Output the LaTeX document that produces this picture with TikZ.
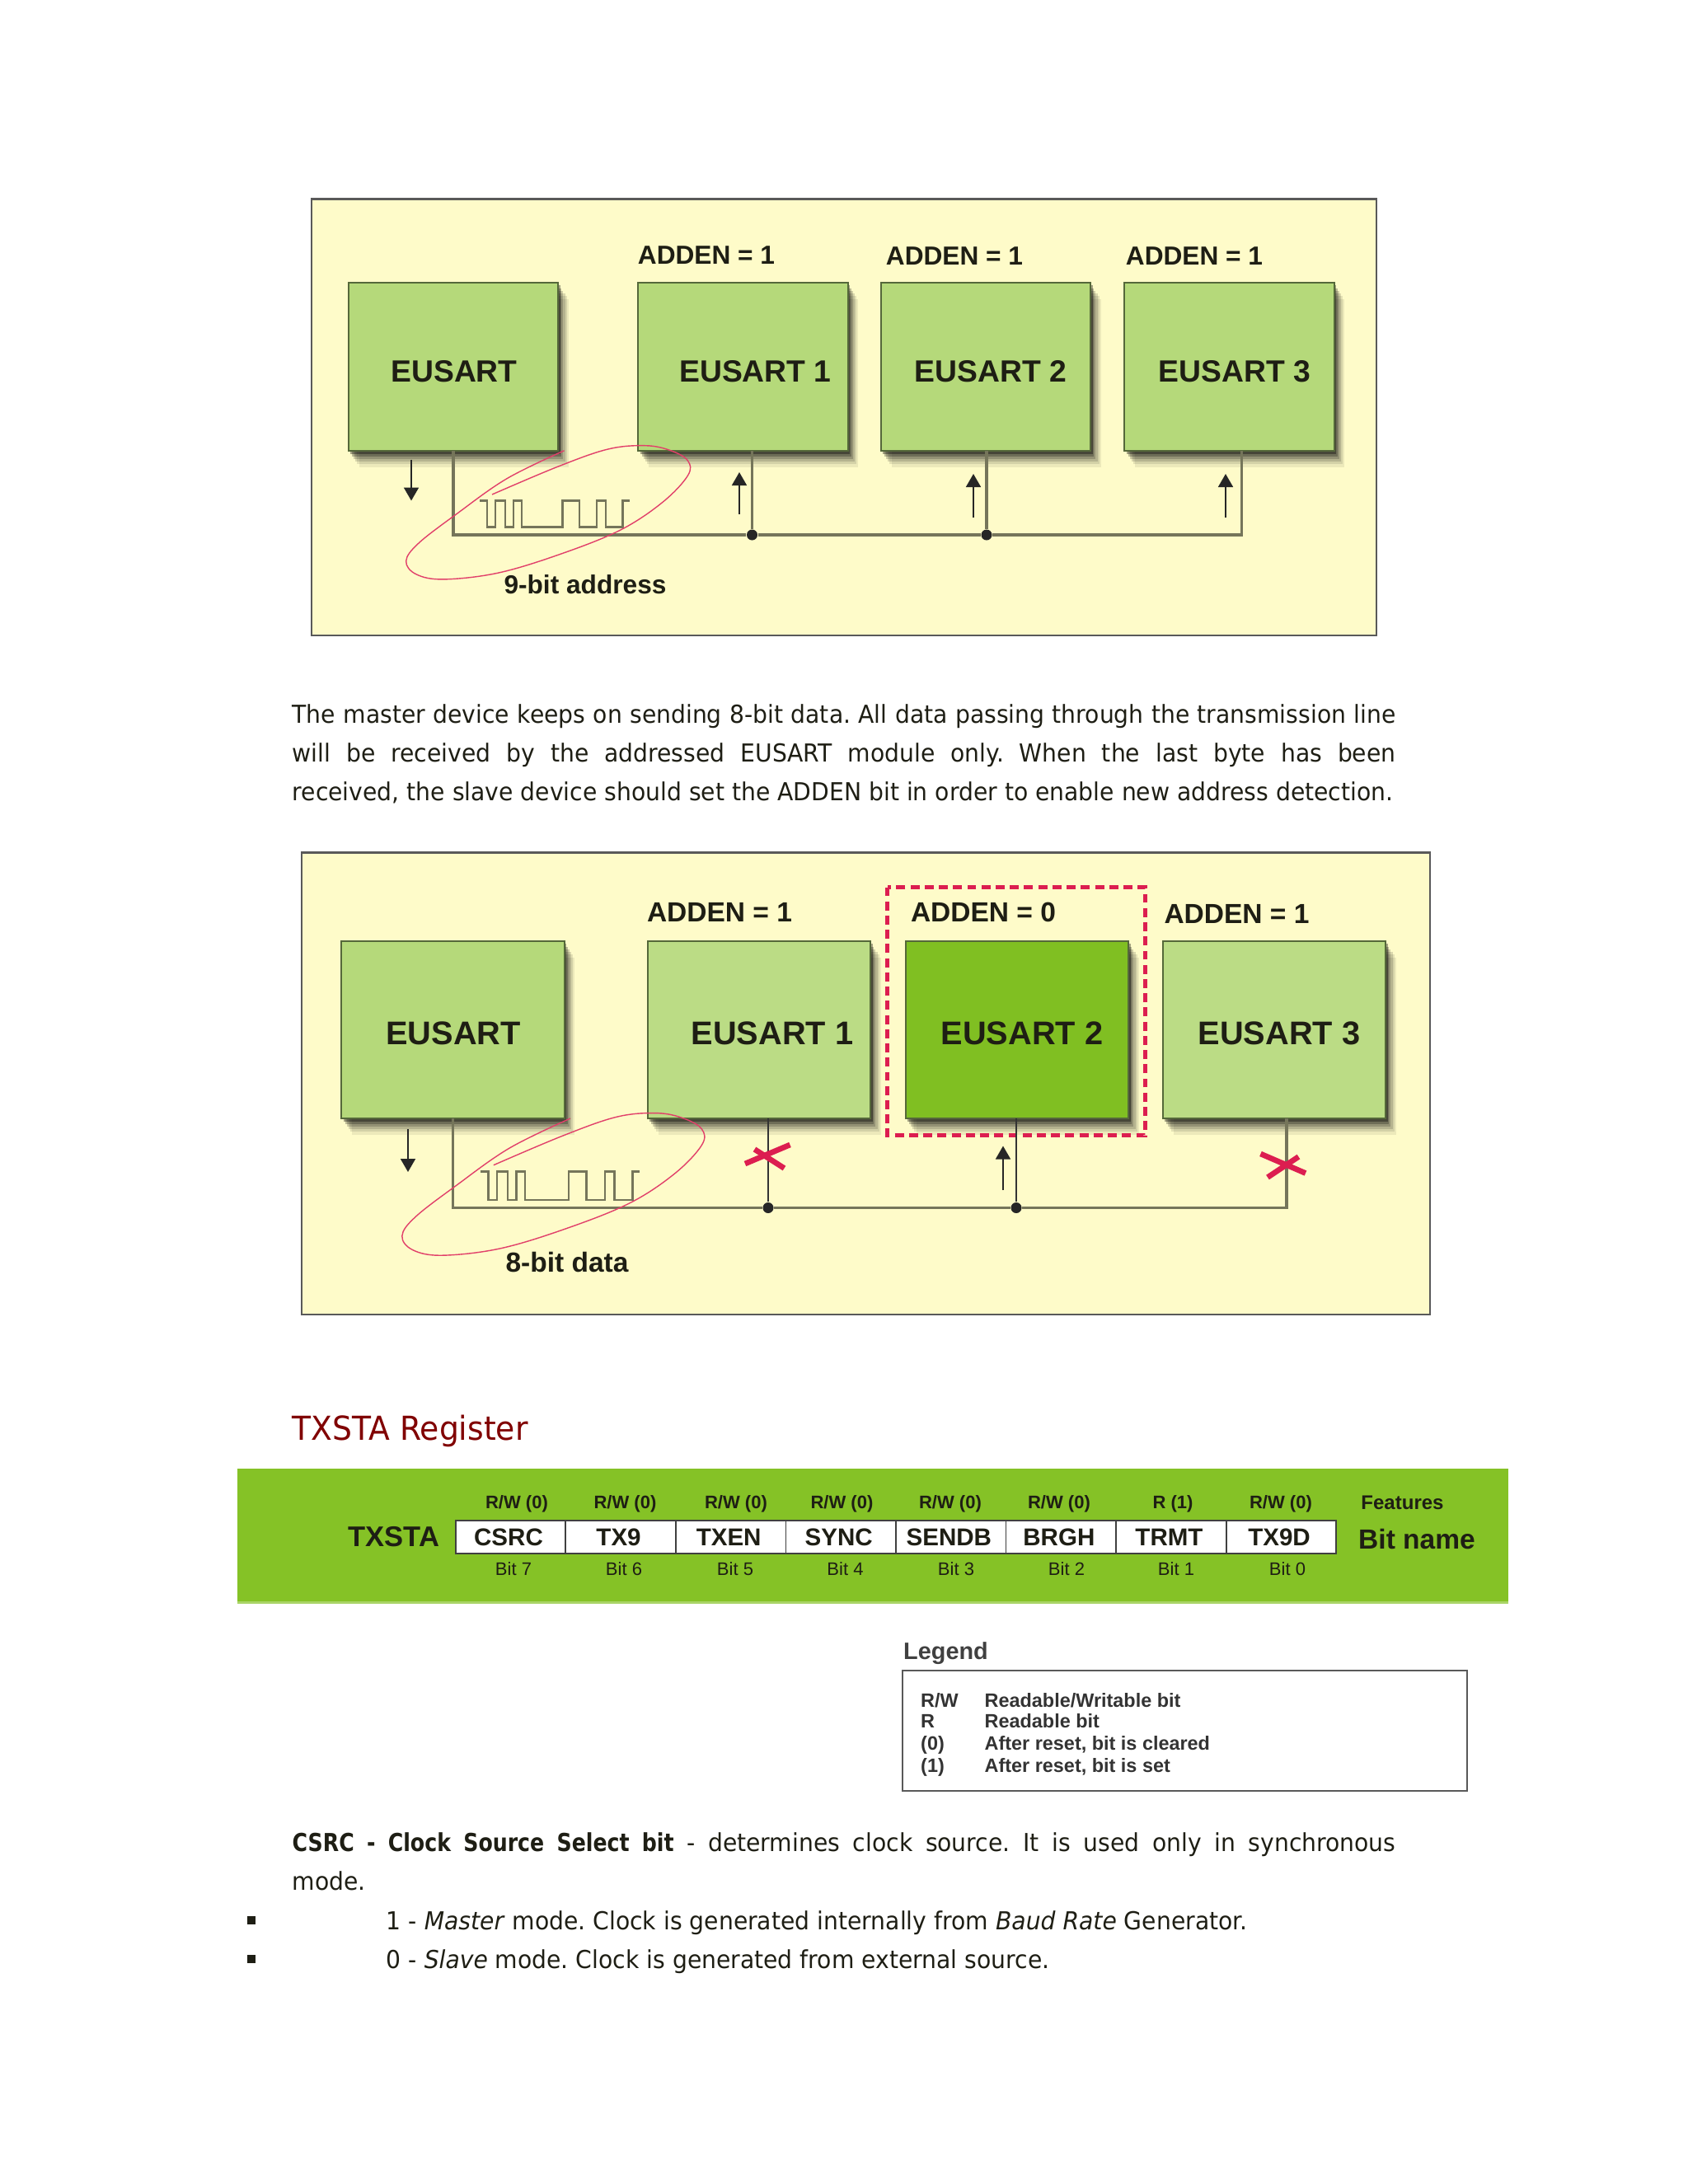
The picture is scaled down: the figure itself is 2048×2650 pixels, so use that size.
\documentclass[tikz,border=0pt]{standalone}
\usepackage{fontspec}
\setmainfont{Liberation Sans}
\newfontfamily\bodyfont[FakeStretch=0.94,BoldFeatures={FakeStretch=0.84}]{DejaVu Sans}
\frenchspacing
\usetikzlibrary{arrows.meta,shadows}
\definecolor{panelbg}{HTML}{FEFBC9}
\definecolor{paleunit}{HTML}{B5D97A}
\definecolor{hotunit}{HTML}{80BF22}
\definecolor{bandgreen}{HTML}{85C226}
\definecolor{unitedge}{HTML}{55683A}
\definecolor{wirecol}{HTML}{75755A}
\definecolor{alarm}{HTML}{DC1E50}
\definecolor{headred}{HTML}{800000}
\definecolor{inktext}{HTML}{1E1E14}
\tikzset{
>=Stealth,
node distance=1.335cm,
unit node/.style={draw=unitedge,line width=0.6pt,fill=paleunit,inner sep=0pt,outer sep=0pt,
  drop shadow={shadow xshift=3.6pt,shadow yshift=-5.6pt,opacity=.07,fill=black},
  drop shadow={shadow xshift=3pt,shadow yshift=-4.6pt,opacity=.1,fill=black},
  drop shadow={shadow xshift=2.4pt,shadow yshift=-3.7pt,opacity=.14,fill=black},
  drop shadow={shadow xshift=1.8pt,shadow yshift=-2.8pt,opacity=.18,fill=black},
  drop shadow={shadow xshift=1.2pt,shadow yshift=-1.9pt,opacity=.25,fill=black},
  drop shadow={shadow xshift=.7pt,shadow yshift=-1pt,opacity=.35,fill=black}},
small unit/.style={unit node,minimum width=2.54cm,minimum height=2.04cm},
big unit/.style={unit node,minimum width=2.70cm,minimum height=2.15cm},
panel/.style={draw=black!65,line width=0.6pt,fill=panelbg},
busline/.style={draw=wirecol,line width=0.9pt},
dotnode/.style={circle,fill=black!85,inner sep=0pt,minimum size=0.13cm},
flowarrow/.style={-{Triangle[length=0.16cm,width=0.18cm]},black!85,line width=0.5pt},
ring/.style={alarm!85,line width=0.4pt},
crossmark/.style={alarm,line width=1.9pt},
txt/.style={text=inktext,inner sep=0pt,font=\fontsize{#1}{#1}\selectfont\bfseries},
plaintxt/.style={text=inktext,inner sep=0pt,font=\fontsize{#1}{#1}\selectfont},
bitcell/.style={draw=black!75,line width=0.5pt,fill=white,inner sep=0pt,outer sep=0pt,minimum width=1.335cm,minimum height=0.40cm,
  text=inktext,font=\fontsize{8.4}{8.4}\selectfont\bfseries},
rowtxt/.style={anchor=base west,text=black!80,inner sep=0pt,font=\fontsize{6.66}{7}\selectfont\bfseries},
para/.style={anchor=north west,inner sep=0pt,text width=13.38cm,align=justify,text=inktext,
  font=\bodyfont\fontsize{8.54}{13.37}\selectfont},
linetxt/.style={anchor=base west,inner sep=0pt,text=inktext,font=\bodyfont\fontsize{8.54}{13.37}\selectfont}}
\newcommand{\bitwave}{(582,607.5) -| (591,639.6) -| (601,607.5) -| (613,639.6) -| (623,607.5) -| (633,639.6) -| (682.5,607.5) -| (703,639.6) -| (724,607.5) -| (735,639.6) -| (755.4,607.5) -- (764,607.5)}
\newcommand{\bitloop}{plot[smooth,tension=0.6] coordinates {(684.5,546.8) (615,580.7) (554,623.6) (508,659) (492.7,680.7) (505,696.8) (538.6,702.9) (605,695) (681.4,671.8) (752.9,643) (804,609.3) (834.5,577) (834.5,559) (814,546.8) (783.5,540.7) (737.6,545) (676.3,566.4) (597,600)}}

\begin{document}
\begin{tikzpicture}[x=0.01cm,y=-0.01cm]
\useasboundingbox (0,0) rectangle (2048,2650);

% first panel
\path[panel] (378,241.5) rectangle (1670,771);
\node[small unit] (m) at (550,445) {};
\node[small unit] (s1) at (901.5,445) {};
\node[small unit] (s2) at (1196,445) {};
\node[small unit] (s3) at (1491.5,445) {};
\node[txt=10.6] (mt) at (551,451) {EUSART};
\node[txt=10.6] (s1t) at (916.5,451) {EUSART 1};
\node[txt=10.6] (s2t) at (1202,451) {EUSART 2};
\node[txt=10.6] (s3t) at (1498,451) {EUSART 3};
\node[txt=9] (a1) at (857,310) {ADDEN = 1};
\node[txt=9] (a2) at (1158,311) {ADDEN = 1};
\node[txt=9] (a3) at (1449,311) {ADDEN = 1};

\node[dotnode] (d1) at (912.5,649) {};
\node[dotnode] (d2) at (1197,649) {};
\draw[busline] (m.south) |- (d1) -- (d2) -| ([xshift=0.15cm]s3.south);
\draw[busline] (d1) -- (d1 |- s1.south);
\draw[busline] (d2) -- (d2 |- s2.south);
\draw[wirecol,line width=0.7pt] \bitwave;
\draw[ring] \bitloop;

\coordinate (f0) at (499,557.5);
\coordinate (f0e) at (499,607.5);
\coordinate (f1) at (897,623.5);
\coordinate (f1e) at (897,573);
\coordinate (f2) at (1181,628);
\coordinate (f2e) at (1181,575);
\coordinate (f3) at (1487,628);
\coordinate (f3e) at (1487,575);
\draw[flowarrow] (f0) -- (f0e);
\draw[flowarrow] (f1) -- (f1e);
\draw[flowarrow] (f2) -- (f2e);
\draw[flowarrow] (f3) -- (f3e);
\node[txt=9] (lab1) at (710,709.5) {9-bit address};

\node[para] (p1) at (354,854) {The master device keeps on sending 8-bit data. All data passing through the transmission line\linebreak
will be received by the addressed EUSART module only. When the last byte has been\linebreak
received, the slave device should set the ADDEN bit in order to enable new address detection.};

% second panel
\path[panel] (366,1034.5) rectangle (1735,1595);
\node[big unit] (mm) at (549.5,1249.5) {};
\node[big unit,fill=paleunit!92!white] (u1) at (921,1249.5) {};
\node[big unit,fill=hotunit] (u2) at (1234,1249.5) {};
\node[big unit,fill=paleunit!92!white] (u3) at (1546,1249.5) {};
\node[txt=11.3] (mmt) at (550,1254) {EUSART};
\node[txt=11.3] (u1t) at (937,1254) {EUSART 1};
\node[txt=11.3] (u2t) at (1240,1254) {EUSART 2};
\node[txt=11.3] (u3t) at (1552,1254) {EUSART 3};
\node[txt=9.53] (b1) at (873,1106.5) {ADDEN = 1};
\node[txt=9.53] (b2) at (1193,1107) {ADDEN = 0};
\node[txt=9.53] (b3) at (1500.5,1109) {ADDEN = 1};
\draw[alarm,line width=1.6pt,dash pattern=on 3.1pt off 1.8pt] (1076.5,1076.5) rectangle (1389.5,1377.5);

\node[dotnode] (e1) at (932,1465.5) {};
\node[dotnode] (e2) at (1233,1465.5) {};
\draw[busline] (mm.south) |- (e1) -- (e2) -| ([xshift=0.15cm]u3.south);
\draw[black!80,line width=0.6pt] (e1) -- (e1 |- u1.south);
\draw[black!80,line width=0.6pt] (e2) -- (e2 |- u2.south);
\begin{scope}[shift={(-36.4,775.3)},scale=1.064]
\draw[wirecol,line width=0.7pt] \bitwave;
\draw[ring] \bitloop;
\end{scope}

\coordinate (g0) at (495,1370);
\coordinate (g0e) at (495,1422);
\coordinate (g1) at (1217,1444);
\coordinate (g1e) at (1217,1390.5);
\draw[flowarrow] (g0) -- (g0e);
\draw[flowarrow] (g1) -- (g1e);
\draw[crossmark] (904,1412) -- (958.5,1389);
\draw[crossmark] (915.5,1394.5) -- (951.5,1417.5);
\draw[crossmark] (1529.5,1400) -- (1584,1423.5);
\draw[crossmark] (1538,1428.5) -- (1575.5,1403.5);
\node[txt=9.53] (lab2) at (688,1531) {8-bit data};

\node[anchor=base west,inner sep=0pt,text=headred,font=\bodyfont\fontsize{11.4}{13}\selectfont] (head) at (354,1747) {TXSTA Register};

% register band
\path[fill=bandgreen] (288,1782) rectangle (1830,1945);
\path[fill=bandgreen!70!white] (288,1943) rectangle (1830,1946);
\node[txt=9.82] (reg) at (478,1865) {TXSTA};
\node[bitcell] (c7) at (619.5,1865) {\hspace*{-0.05cm}CSRC};
\node[bitcell,right of=c7] (c6) {\hspace*{-0.05cm}TX9};
\node[bitcell,right of=c6] (c5) {\hspace*{-0.05cm}TXEN};
\node[bitcell,right of=c5] (c4) {\hspace*{-0.05cm}SYNC};
\node[bitcell,right of=c4] (c3) {\hspace*{-0.05cm}SENDB};
\node[bitcell,right of=c3] (c2) {\hspace*{-0.05cm}BRGH};
\node[bitcell,right of=c2] (c1) {\hspace*{-0.05cm}TRMT};
\node[bitcell,right of=c1] (c0) {\hspace*{-0.05cm}TX9D};
\node[txt=6.26] (r7) at (627,1825) {R/W (0)};
\node[txt=6.26] (r6) at (758.5,1825) {R/W (0)};
\node[txt=6.26] (r5) at (893,1825) {R/W (0)};
\node[txt=6.26] (r4) at (1021.5,1825) {R/W (0)};
\node[txt=6.26] (r3) at (1153,1825) {R/W (0)};
\node[txt=6.26] (r2) at (1285,1825) {R/W (0)};
\node[txt=6.26] (r1) at (1423,1825) {R (1)};
\node[txt=6.26] (r0) at (1554,1825) {R/W (0)};
\node[plaintxt=6.26] (n7) at (623,1904) {Bit 7};
\node[plaintxt=6.26] (n6) at (757,1904) {Bit 6};
\node[plaintxt=6.26] (n5) at (892,1904) {Bit 5};
\node[plaintxt=6.26] (n4) at (1025.5,1904) {Bit 4};
\node[plaintxt=6.26] (n3) at (1160,1904) {Bit 3};
\node[plaintxt=6.26] (n2) at (1294,1904) {Bit 2};
\node[plaintxt=6.26] (n1) at (1427,1904) {Bit 1};
\node[plaintxt=6.26] (n0) at (1562,1904) {Bit 0};
\node[txt=6.83] (feat) at (1701.5,1823.5) {Features};
\node[txt=9.53] (bname) at (1719,1867.5) {Bit name};

% legend
\node[text=black!75,inner sep=0pt,font=\fontsize{8.2}{9}\selectfont\bfseries] (leg) at (1147.5,2006) {Legend};
\path[draw=black!65,line width=0.6pt] (1095,2027) rectangle (1780,2173);
\node[rowtxt] (k1) at (1116.5,2071.5) {R/W};
\node[rowtxt] (k2) at (1116.5,2096.5) {R};
\node[rowtxt] (k3) at (1116.5,2123) {(0)};
\node[rowtxt] (k4) at (1116.5,2150) {(1)};
\node[rowtxt] (v1) at (1194,2071.5) {Readable/Writable bit};
\node[rowtxt] (v2) at (1194,2096.5) {Readable bit};
\node[rowtxt] (v3) at (1194,2123) {After reset, bit is cleared};
\node[rowtxt] (v4) at (1194,2150) {After reset, bit is set};

\node[para] (p2) at (354,2223) {\textbf{CSRC - Clock Source Select bit} - determines clock source. It is used only in synchronous\linebreak
mode.};
\path[fill=inktext] (299.5,2325) rectangle (309.5,2335);
\path[fill=inktext] (299.5,2372) rectangle (309.5,2382);
\node[linetxt] (i1) at (468,2341) {1 - \textit{Master} mode. Clock is generated internally from \textit{Baud Rate} Generator.};
\node[linetxt] (i0) at (468,2388) {0 - \textit{Slave} mode. Clock is generated from external source.};
\end{tikzpicture}
\end{document}
